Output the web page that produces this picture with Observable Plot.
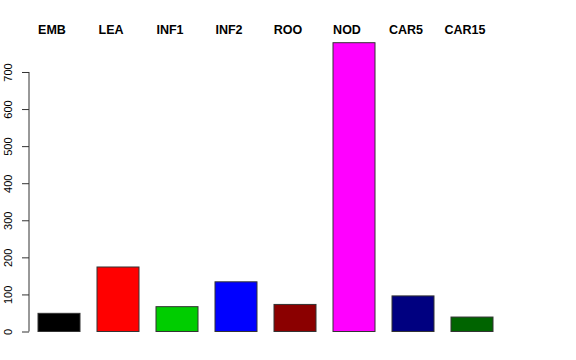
<!DOCTYPE html>
<html>
<head>
<meta charset="utf-8">
<script src="https://cdn.jsdelivr.net/npm/d3@7"></script>
<script src="https://cdn.jsdelivr.net/npm/@observablehq/plot@0.6"></script>
<style>
  html, body { margin: 0; padding: 0; background: #fff; }
  svg { font-family: "Liberation Sans", Arial, Helvetica, sans-serif; }
</style>
</head>
<body>
<div id="chart"></div>
<script>
const categories = ["EMB", "LEA", "INF1", "INF2", "ROO", "NOD", "CAR5", "CAR15"];
const values = [49, 174, 67, 134, 73, 779, 96, 39];
const colors = ["#000000", "#FF0000", "#00CD00", "#0000FF", "#8B0000", "#FF00FF", "#000080", "#006400"];
const yTicks = [0, 100, 200, 300, 400, 500, 600, 700];

const data = categories.map((c, i) => ({cat: c, value: values[i], color: colors[i]}));

const plot = Plot.plot({
  width: 576,
  height: 360,
  marginLeft: 29,
  marginRight: 82,
  marginTop: 42.7,
  marginBottom: 28.5,
  style: {fontFamily: '"Liberation Sans", Arial, Helvetica, sans-serif', background: "#fff", color: "#000"},
  x: {domain: categories, range: [38, 494], paddingInner: 0.288, paddingOuter: 0, axis: null, label: null},
  y: {domain: [0, 779], nice: false, axis: null, label: null},
  marks: [
    Plot.barY(data, {x: "cat", y: "value", fill: "color", stroke: "#333", strokeWidth: 1}),
    Plot.axisY({ticks: yTicks, tickSize: 7, tickRotate: -90, tickPadding: 11, fontSize: 11, tickFormat: d => String(d), stroke: "#333", label: null}),
    Plot.axisX({anchor: "top", tickSize: 0, fontSize: 12.5, fontWeight: "bold", dx: -7.5, tickPadding: 9, label: null})
  ]
});

const sx = plot.scale("y");
const svg = d3.select(plot);
svg.append("line")
  .attr("x1", 29).attr("x2", 29)
  .attr("y1", sx.apply(0)).attr("y2", sx.apply(700))
  .attr("stroke", "#333").attr("stroke-width", 1);

document.getElementById("chart").appendChild(plot);
</script>
</body>
</html>
